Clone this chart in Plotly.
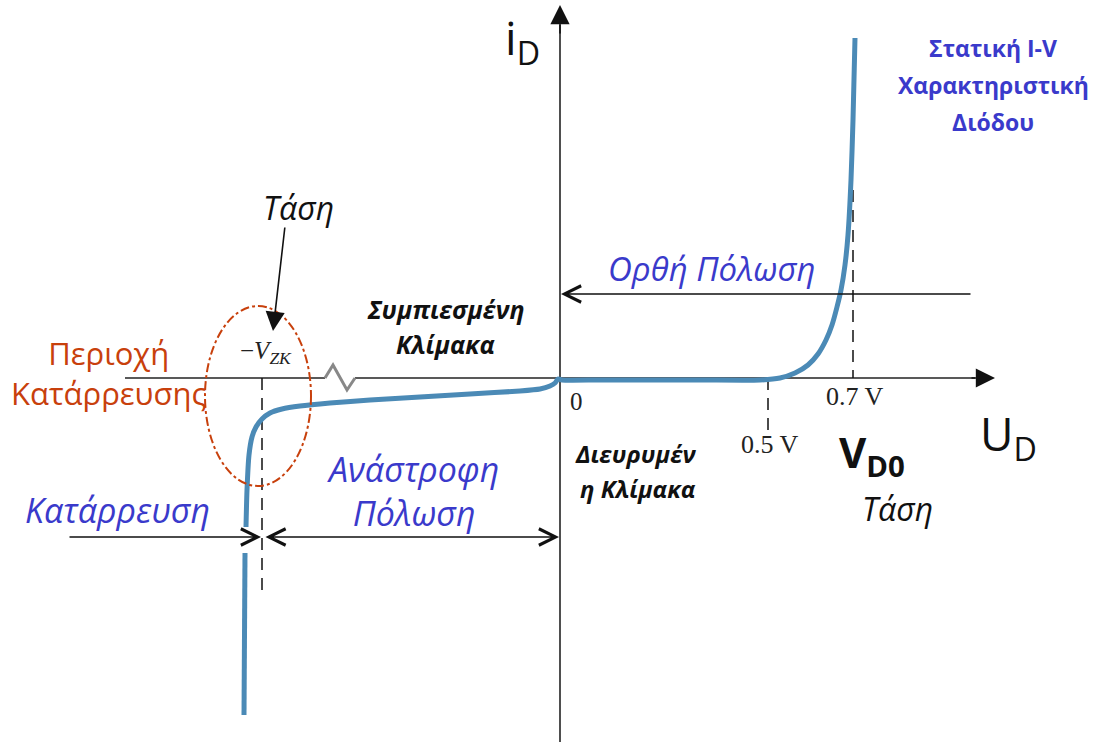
import plotly.graph_objects as go

# ---- data (diagram coordinates, pixel-like units; y grows downward) ----
# diode I-V curve: breakdown + reverse + forward regions
curve_x = [244, 245, None, 246, 247, 249, 252, 256, 262, 270, 282, 300, 330, 370, 420, 470, 520,
           540, 550, 555, 558, 562, 600, 700, 760, 780, 795, 808, 818, 826, 832, 837, 841,
           845, 848, 851, 853, 855]
curve_y = [715, 553, None, 527, 490, 455, 437, 427, 419, 413, 409, 406, 403, 400, 397, 394, 391,
           389, 386, 383, 379, 380, 380, 380, 380, 378, 373, 365, 354, 340, 325, 307, 290,
           265, 235, 180, 120, 38]

# horizontal axis pieces (left part, break zig-zag, right part)
axis_left_x = [125, 325]
axis_y0 = 378
zig_x = [325, 333, 347, 355]
zig_y = [378, 365, 390, 378]
axis_right_x = [355, 975]
axis_arrow_tip_x = 995
# vertical axis
vaxis_x = 560
vaxis_y = [742, 5]

# dashed guide lines: (x, y_start, y_end)
dash_x = [262, 768, 853]
dash_y0 = [378, 378, 190]
dash_y1 = [590, 430, 378]

# breakdown ellipse
ell_cx, ell_cy, ell_rx, ell_ry = 258, 396, 53, 90

# tick-like labels
tick_labels = ["0", "0.5 V", "0.7 V", "−<i>V</i><sub><i>ZK</i></sub>"]
tick_x = [576, 770, 855, 266]
tick_y = [401, 444, 396, 352]
tick_size = [25, 26, 26, 25]

BLUE = "#3a3acb"
RED = "#c8400c"
CURVE = "#4b8ab6"

fig = go.Figure()

# axes
fig.add_trace(go.Scatter(x=axis_left_x, y=[axis_y0] * 2, mode="lines",
                         line=dict(color="#222", width=1.6), hoverinfo="skip"))
fig.add_trace(go.Scatter(x=axis_right_x, y=[axis_y0] * 2, mode="lines",
                         line=dict(color="#222", width=1.6), hoverinfo="skip"))
fig.add_trace(go.Scatter(x=zig_x, y=zig_y, mode="lines",
                         line=dict(color="#888", width=3), hoverinfo="skip"))
fig.add_trace(go.Scatter(x=[vaxis_x] * 2, y=[vaxis_y[0], vaxis_y[1] + 20], mode="lines",
                         line=dict(color="#222", width=1.6), hoverinfo="skip"))

# dashed guides
for xv, a, b in zip(dash_x, dash_y0, dash_y1):
    fig.add_trace(go.Scatter(x=[xv, xv], y=[a, b], mode="lines",
                             line=dict(color="#111", width=1.5, dash="12px,8px"),
                             hoverinfo="skip"))

# curve
fig.add_trace(go.Scatter(x=curve_x, y=curve_y, mode="lines",
                         line=dict(color=CURVE, width=5, shape="spline", smoothing=0.6),
                         connectgaps=False, hoverinfo="skip"))

# ellipse
fig.add_shape(type="circle", xref="x", yref="y",
              x0=ell_cx - ell_rx, x1=ell_cx + ell_rx, y0=ell_cy - ell_ry, y1=ell_cy + ell_ry,
              line=dict(color=RED, width=2, dash="dashdot"))

annos = []
# axis arrowheads (filled)
annos.append(dict(x=axis_arrow_tip_x, y=axis_y0, ax=axis_right_x[1] - 5, ay=axis_y0,
                  xref="x", yref="y", axref="x", ayref="y", text="", showarrow=True,
                  arrowhead=2, arrowsize=2.4, arrowwidth=1.6, arrowcolor="#111"))
annos.append(dict(x=vaxis_x, y=vaxis_y[1], ax=vaxis_x, ay=vaxis_y[1] + 30,
                  xref="x", yref="y", axref="x", ayref="y", text="", showarrow=True,
                  arrowhead=2, arrowsize=2.4, arrowwidth=1.6, arrowcolor="#111"))
# forward-bias arrow
annos.append(dict(x=vaxis_x + 1, y=294, ax=972, ay=294,
                  xref="x", yref="y", axref="x", ayref="y", text="", showarrow=True,
                  arrowhead=5, arrowsize=2.5, arrowwidth=1.3, arrowcolor="#111"))
# breakdown arrow
annos.append(dict(x=261, y=537, ax=68, ay=537,
                  xref="x", yref="y", axref="x", ayref="y", text="", showarrow=True,
                  arrowhead=5, arrowsize=2.5, arrowwidth=1.3, arrowcolor="#111"))
# reverse-bias double arrow
annos.append(dict(x=vaxis_x - 1, y=537, ax=264, ay=537,
                  xref="x", yref="y", axref="x", ayref="y", text="", showarrow=True,
                  arrowhead=5, startarrowhead=5, arrowside="end+start",
                  arrowsize=2.5, startarrowsize=2.5, arrowwidth=1.3, arrowcolor="#111"))
# voltage pointer arrow
annos.append(dict(x=273, y=331, ax=285, ay=226,
                  xref="x", yref="y", axref="x", ayref="y", text="", showarrow=True,
                  arrowhead=2, arrowsize=2.4, arrowwidth=1.6, arrowcolor="#111"))

def txt(x, y, s, size, color="#111", family="Open Sans, sans-serif"):
    annos.append(dict(x=x, y=y, xref="x", yref="y", text=s, showarrow=False,
                      font=dict(size=size, color=color, family=family), align="center",
                      xanchor="center", yanchor="middle"))

SERIF = "Liberation Serif, Times New Roman, serif"
for s, xv, yv, fs in zip(tick_labels, tick_x, tick_y, tick_size):
    txt(xv, yv, s, fs, "#222", SERIF)

txt(522, 40, "i<sub>D</sub>", 46)
txt(1008, 436, "U<sub>D</sub>", 46)
txt(872, 454, "<b>V<sub>D0</sub></b>", 42)
txt(897, 508, "<i>Τάση</i>", 32)
txt(298, 207, "<i>Τάση</i>", 32)

title_lines = ["<b>Στατική I-V</b>", "<b>Χαρακτηριστική</b>", "<b>Διόδου</b>"]
for i, s in enumerate(title_lines):
    txt(993, 48 + 37 * i, s, 23, BLUE)

txt(712, 268, "<i>Ορθή Πόλωση</i>", 33, BLUE)
txt(445, 309, "<b><i>Συμπιεσμένη</i></b>", 25)
txt(445, 344, "<b><i>Κλίμακα</i></b>", 25)
txt(635, 453, "<b><i>Διευρυμέν</i></b>", 24)
txt(638, 488, "<b><i>η Κλίμακα</i></b>", 24)
txt(108, 373, "Περιοχή<br>Κατάρρευσης", 31, RED)
txt(117, 510, "<i>Κατάρρευση</i>", 34, BLUE)
txt(413, 491, "<i>Ανάστροφη<br>Πόλωση</i>", 34, BLUE)

fig.update_layout(
    width=1098, height=742, margin=dict(l=0, r=0, t=0, b=0),
    paper_bgcolor="white", plot_bgcolor="white", showlegend=False,
    xaxis=dict(range=[0, 1098], visible=False, fixedrange=True),
    yaxis=dict(range=[742, 0], visible=False, fixedrange=True),
    annotations=annos,
)

fig.write_html("out.html", config={"displayModeBar": False},
               post_script="document.body.style.margin='0px';document.body.style.overflow='hidden';")
